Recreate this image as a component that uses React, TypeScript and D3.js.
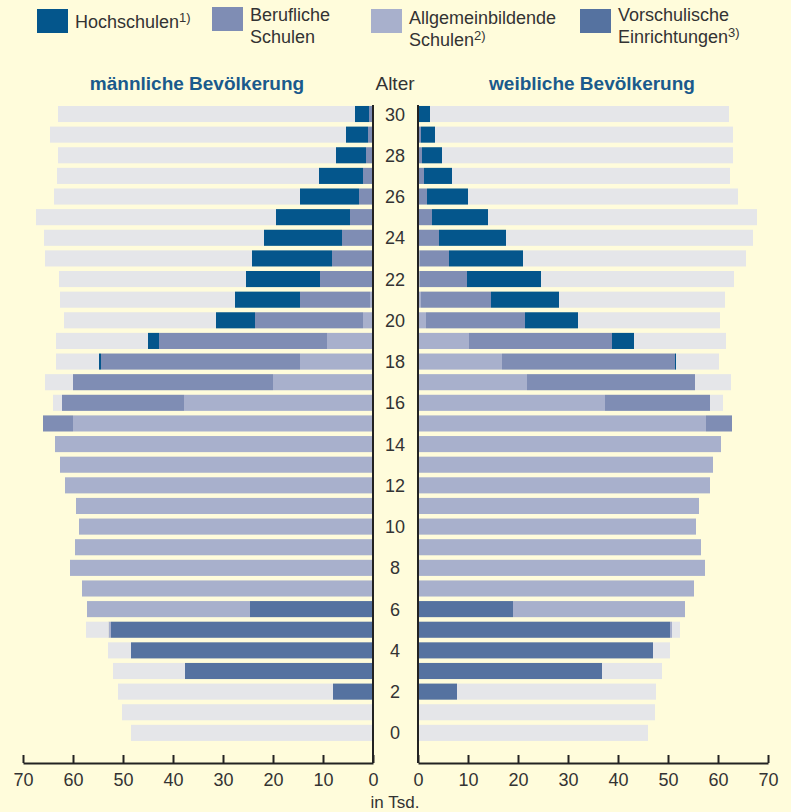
import * as d3 from "d3";
import { useEffect, useRef } from "react";

// ages 0..30 (index = age)
const ages = d3.range(0, 31);

// männliche Bevölkerung, in Tsd.
const maleVorschul = [0, 0, 8.0, 37.6, 48.4, 52.4, 24.6, 0, 0, 0, 0, 0, 0, 0, 0, 0, 0, 0, 0, 0, 0, 0, 0, 0, 0, 0, 0, 0, 0, 0, 0];
const maleAllg = [0, 0, 0, 0, 0, 0.5, 32.6, 58.2, 60.6, 59.6, 58.8, 59.4, 61.6, 62.6, 63.6, 60.0, 37.8, 20.0, 14.6, 9.2, 2.0, 0.6, 0, 0, 0, 0, 0, 0, 0, 0, 0];
const maleBeruf = [0, 0, 0, 0, 0, 0, 0, 0, 0, 0, 0, 0, 0, 0, 0, 6.0, 24.4, 40.0, 39.8, 33.6, 21.6, 14.0, 10.6, 8.2, 6.2, 4.6, 2.8, 2.0, 1.4, 1.0, 0.8];
const maleHoch = [0, 0, 0, 0, 0, 0, 0, 0, 0, 0, 0, 0, 0, 0, 0, 0, 0, 0, 0.4, 2.2, 7.8, 13.0, 14.8, 16.0, 15.6, 14.8, 11.8, 8.8, 6.0, 4.4, 2.8];
const maleTotal = [48.4, 50.2, 51.0, 52.0, 53.0, 57.4, 57.2, 58.2, 60.6, 59.6, 58.8, 59.4, 61.6, 62.6, 63.6, 66.0, 64.0, 65.6, 63.4, 63.4, 61.8, 62.6, 62.8, 65.6, 65.8, 67.4, 63.8, 63.2, 63.0, 64.6, 63.0];

// weibliche Bevölkerung, in Tsd.
const femaleVorschul = [0, 0, 7.8, 36.8, 47.0, 50.4, 19.0, 0, 0, 0, 0, 0, 0, 0, 0, 0, 0, 0, 0, 0, 0, 0, 0, 0, 0, 0, 0, 0, 0, 0, 0];
const femaleAllg = [0, 0, 0, 0, 0, 0.4, 34.4, 55.2, 57.4, 56.6, 55.6, 56.2, 58.4, 59.0, 60.6, 57.6, 37.4, 21.8, 16.8, 10.2, 1.6, 0.6, 0.3, 0.3, 0, 0, 0, 0, 0, 0, 0];
const femaleBeruf = [0, 0, 0, 0, 0, 0, 0, 0, 0, 0, 0, 0, 0, 0, 0, 5.2, 21.0, 33.6, 34.6, 28.6, 19.8, 14.0, 9.5, 5.9, 4.2, 2.8, 1.8, 1.2, 0.8, 0.6, 0.2];
const femaleHoch = [0, 0, 0, 0, 0, 0, 0, 0, 0, 0, 0, 0, 0, 0, 0, 0, 0, 0, 0.2, 4.4, 10.6, 13.6, 14.8, 14.8, 13.4, 11.2, 8.2, 5.6, 4.0, 2.8, 2.2];
const femaleTotal = [46.0, 47.4, 47.6, 48.8, 50.4, 52.4, 53.4, 55.2, 57.4, 56.6, 55.6, 56.2, 58.4, 59.0, 60.6, 62.8, 61.0, 62.6, 60.2, 61.6, 60.4, 61.4, 63.2, 65.6, 67.0, 67.8, 64.0, 62.4, 63.0, 63.0, 62.2];

const ageLabels = [0, 2, 4, 6, 8, 10, 12, 14, 16, 18, 20, 22, 24, 26, 28, 30];
const xTicks = [0, 10, 20, 30, 40, 50, 60, 70];

const keys = ["vor", "allg", "beruf", "hoch", "rest"];
const colors: Record<string, string> = {
  vor: "#5572a0",
  allg: "#a8b0cc",
  beruf: "#7f8db4",
  hoch: "#04568c",
  rest: "#e5e6e9",
};

const W = 791;
const H = 812;
const FONT = "'Liberation Sans', Arial, sans-serif";
const NARROW = "'Liberation Sans Narrow', 'Arial Narrow', 'Liberation Sans', sans-serif";

const buildRows = (v: number[], a: number[], b: number[], h: number[], t: number[]) =>
  ages.map((age, i) => ({
    age,
    vor: v[i],
    allg: a[i],
    beruf: b[i],
    hoch: h[i],
    rest: Math.max(0, t[i] - v[i] - a[i] - b[i] - h[i]),
  }));

const maleRows = buildRows(maleVorschul, maleAllg, maleBeruf, maleHoch, maleTotal);
const femaleRows = buildRows(femaleVorschul, femaleAllg, femaleBeruf, femaleHoch, femaleTotal);

const stack = d3.stack<any>().keys(keys);
const maleStack = stack(maleRows);
const femaleStack = stack(femaleRows);

const yScale = d3
  .scaleBand<number>()
  .domain([...ages].reverse())
  .range([103.7, 743.2])
  .paddingInner(0.22)
  .paddingOuter(0.11);

const xLeft = d3.scaleLinear().domain([0, 70]).range([373, 23]);
const xRight = d3.scaleLinear().domain([0, 70]).range([418, 768]);
const axisY = 763;

const legend = [
  { key: "hoch", x: 37, y: 9, lines: ["Hochschulen"], sup: "1)", supLine: 0, ty: [28] },
  { key: "beruf", x: 212, y: 7, lines: ["Berufliche", "Schulen"], sup: "", supLine: 0, ty: [21, 43] },
  { key: "allg", x: 371, y: 9, lines: ["Allgemeinbildende", "Schulen"], sup: "2)", supLine: 1, ty: [24, 46] },
  { key: "vor", x: 580, y: 9, lines: ["Vorschulische", "Einrichtungen"], sup: "3)", supLine: 1, ty: [21, 43] },
];

export default function App() {
  const leftAxisRef = useRef<SVGGElement | null>(null);
  const rightAxisRef = useRef<SVGGElement | null>(null);

  useEffect(() => {
    const style = (g: d3.Selection<SVGGElement, unknown, null, undefined>) => {
      g.select(".domain").attr("stroke", "#222").attr("stroke-width", 2);
      g.selectAll(".tick line").attr("stroke", "#222").attr("stroke-width", 2);
      g.selectAll(".tick text")
        .attr("fill", "#333")
        .attr("font-size", 18)
        .attr("font-family", FONT);
    };
    if (leftAxisRef.current) {
      const g = d3.select(leftAxisRef.current);
      g.selectAll("*").remove();
      g.call(d3.axisBottom(xLeft).tickValues(xTicks).tickSize(-8).tickSizeOuter(0).tickPadding(10));
      style(g);
    }
    if (rightAxisRef.current) {
      const g = d3.select(rightAxisRef.current);
      g.selectAll("*").remove();
      g.call(d3.axisBottom(xRight).tickValues(xTicks).tickSize(-8).tickSizeOuter(0).tickPadding(10));
      style(g);
    }
  }, []);

  const bw = yScale.bandwidth();

  return (
    <svg width={W} height={H} style={{ position: "absolute", left: 0, top: 0 }} fontFamily={FONT}>
      <rect width={W} height={H} fill="#fffcdb" />

      {/* legend */}
      {legend.map((l) => (
        <g key={l.key}>
          <rect x={l.x} y={l.y} width={31} height={24} fill={colors[l.key]} />
          {l.lines.map((t, i) => (
            <text key={i} x={l.x + 38} y={l.ty[i]} fontSize={18} fill="#333">
              {t}
              {l.sup && l.supLine === i ? (
                <tspan fontSize={13} dy={-6}>{l.sup}</tspan>
              ) : null}
            </text>
          ))}
        </g>
      ))}

      {/* headers */}
      <text x={197} y={90} textAnchor="middle" fontFamily={NARROW} fontWeight="bold" fontSize={19} fill="#1a5a8c">
        männliche Bevölkerung
      </text>
      <text x={395} y={90} textAnchor="middle" fontFamily={NARROW} fontSize={19} fill="#333">
        Alter
      </text>
      <text x={592} y={90} textAnchor="middle" fontFamily={NARROW} fontWeight="bold" fontSize={19} fill="#1a5a8c">
        weibliche Bevölkerung
      </text>

      {/* male bars */}
      {maleStack.map((s) => (
        <g key={"m" + s.key} fill={colors[s.key]}>
          {s.map((d: any) =>
            d[1] - d[0] > 0 ? (
              <rect
                key={d.data.age}
                x={xLeft(d[1])}
                y={yScale(d.data.age)}
                width={xLeft(d[0]) - xLeft(d[1])}
                height={bw}
              />
            ) : null
          )}
        </g>
      ))}

      {/* female bars */}
      {femaleStack.map((s) => (
        <g key={"f" + s.key} fill={colors[s.key]}>
          {s.map((d: any) =>
            d[1] - d[0] > 0 ? (
              <rect
                key={d.data.age}
                x={xRight(d[0])}
                y={yScale(d.data.age)}
                width={xRight(d[1]) - xRight(d[0])}
                height={bw}
              />
            ) : null
          )}
        </g>
      ))}

      {/* vertical base lines */}
      <line x1={xLeft(0)} x2={xLeft(0)} y1={105} y2={axisY} stroke="#222" strokeWidth={2} />
      <line x1={xRight(0)} x2={xRight(0)} y1={105} y2={axisY} stroke="#222" strokeWidth={2} />

      {/* age labels */}
      {ageLabels.map((a) => (
        <text key={a} x={395} y={(yScale(a) ?? 0) + bw / 2 + 6.5} textAnchor="middle" fontSize={18} fill="#333">
          {a}
        </text>
      ))}

      <g ref={leftAxisRef} transform={`translate(0,${axisY})`} />
      <g ref={rightAxisRef} transform={`translate(0,${axisY})`} />

      <text x={395} y={808} textAnchor="middle" fontSize={17} fill="#333">
        in Tsd.
      </text>
    </svg>
  );
}
